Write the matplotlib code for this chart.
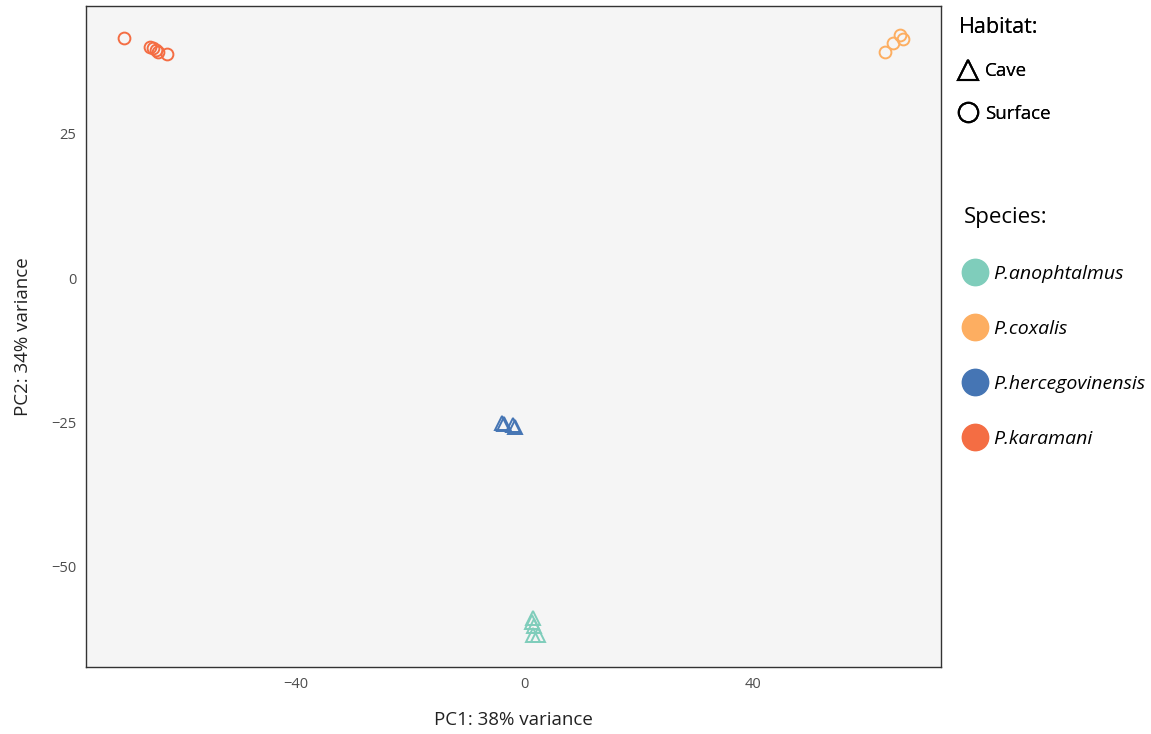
import numpy as np
import matplotlib.pyplot as plt
from matplotlib.lines import Line2D

plt.rcParams['font.family'] = ['Open Sans', 'DejaVu Sans']

# PCA scores
species = ['P.anophtalmus', 'P.coxalis', 'P.hercegovinensis', 'P.karamani']
colors = ['#7fcdbb', '#fdae61', '#4575b4', '#f46d43']
habitat = ['Cave', 'Surface', 'Cave', 'Surface']

pc1 = {
    'P.anophtalmus': [1.6, 1.4, 1.75, 1.6, 2.4],
    'P.coxalis': [63.2, 64.6, 65.8, 66.4],
    'P.hercegovinensis': [-3.8, -3.5, -1.9, -1.6],
    'P.karamani': [-70.0, -65.5, -65.0, -64.4, -64.1, -62.5],
}
pc2 = {
    'P.anophtalmus': [-59.0, -59.7, -60.4, -62.0, -62.0],
    'P.coxalis': [39.2, 40.8, 42.2, 41.5],
    'P.hercegovinensis': [-25.1, -25.4, -25.5, -25.8],
    'P.karamani': [41.7, 40.1, 39.9, 39.6, 39.2, 38.9],
}

marker_of = {'Cave': '^', 'Surface': 'o'}

fig = plt.figure(figsize=(11.51, 7.34), dpi=100)
ax = fig.add_axes([0.0747, 0.0913, 0.743, 0.9005])
ax.set_facecolor('#f5f5f5')

for sp, col, hab in zip(species, colors, habitat):
    ax.plot(pc1[sp], pc2[sp], linestyle='none', marker=marker_of[hab],
            markersize=8.5 if hab == 'Surface' else 10,
            markerfacecolor='none', markeredgecolor=col, markeredgewidth=1.4)

ax.set_xlim(-76.7, 73.0)
ax.set_ylim(-67.5, 47.2)
ax.set_xticks([-40, 0, 40])
ax.set_yticks([-50, -25, 0, 25])
ax.tick_params(length=0, labelsize=10.5, labelcolor='#4d4d4d', pad=7)
for s in ax.spines.values():
    s.set_color('#333333')
    s.set_linewidth(1.0)

ax.set_xlabel('PC1: 38% variance', fontsize=13.5, labelpad=14, color='#222222')
ax.set_ylabel('PC2: 34% variance', fontsize=13.5, labelpad=14, color='#222222')

hab_handles = [
    Line2D([], [], linestyle='none', marker='^', markersize=14,
           markerfacecolor='none', markeredgecolor='black', markeredgewidth=1.5),
    Line2D([], [], linestyle='none', marker='o', markersize=14,
           markerfacecolor='none', markeredgecolor='black', markeredgewidth=1.5),
]
leg1 = fig.legend(hab_handles, ['Cave', 'Surface'], title='Habitat:',
                  loc='upper left', bbox_to_anchor=(0.818, 1.0),
                  frameon=False, fontsize=13.5, title_fontsize=15.5,
                  handlelength=1.0, handletextpad=0.4, labelspacing=1.3,
                  alignment='left')

sp_handles = [Line2D([], [], linestyle='none', marker='o', markersize=19,
                     markerfacecolor=c, markeredgecolor=c) for c in colors]
leg2 = fig.legend(sp_handles, species, title='Species:',
                  loc='upper left', bbox_to_anchor=(0.822, 0.742),
                  frameon=False, fontsize=14, title_fontsize=16,
                  handlelength=1.2, handletextpad=0.3, labelspacing=1.9,
                  alignment='left')
for t in leg2.get_texts():
    t.set_fontstyle('italic')
fig.add_artist(leg1)

fig.savefig('out.png', dpi=100)
